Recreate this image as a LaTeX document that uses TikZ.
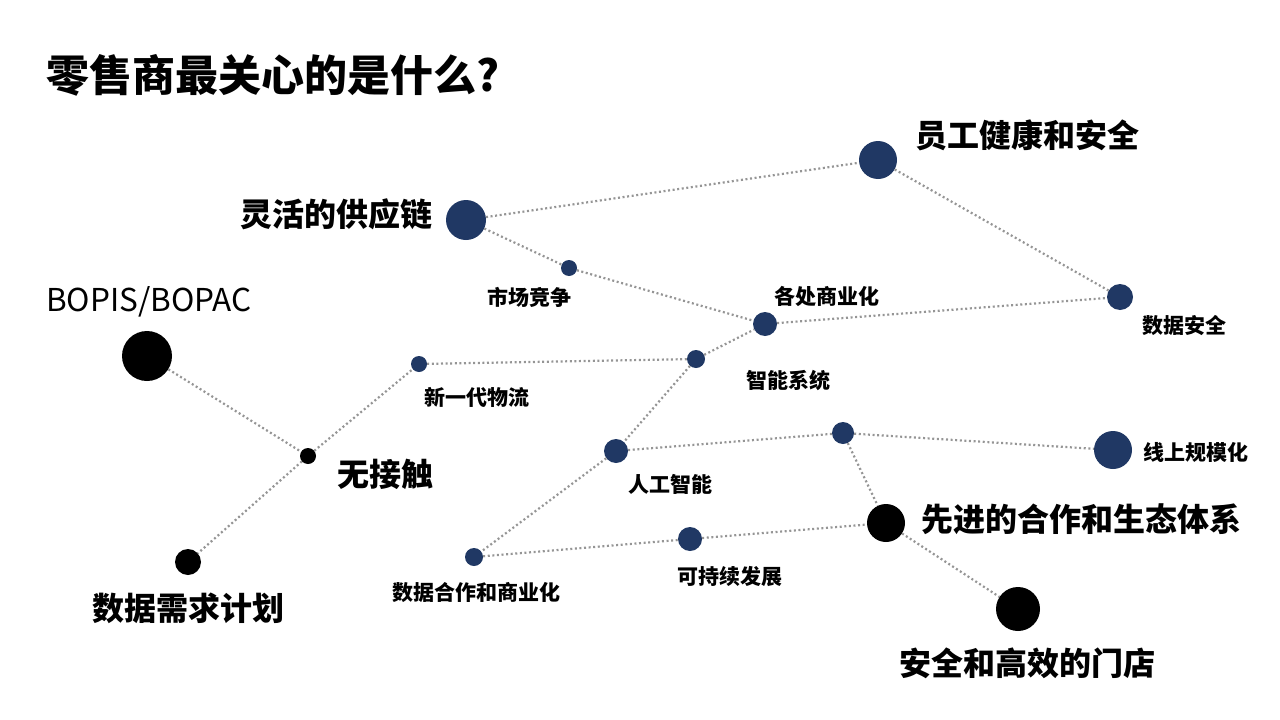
\documentclass[tikz,border=0pt]{standalone}
\usepackage{fontspec}
\setmainfont{Noto Sans CJK SC}
\usepackage{xcolor}
\usepackage{tikz}
\usetikzlibrary{positioning}

\definecolor{navy}{HTML}{203864}
\definecolor{linkgray}{HTML}{959595}

\tikzset{
	dot/.style={circle, inner sep=0pt, minimum size=#1},
	bluedot/.style={dot=#1, fill=navy},
	blackdot/.style={dot=#1, fill=black},
	link/.style={linkgray, line width=2.2pt, dash pattern=on 2pt off 2.6pt},
	bigtag/.style={font=\fontsize{32}{36}\selectfont\bfseries, inner sep=0pt},
	smalltag/.style={font=\fontsize{21}{24}\selectfont\bfseries, inner sep=0pt}
}

\begin{document}
\begin{tikzpicture}[x=1pt, y=-1pt]
		\useasboundingbox (0,0) rectangle (1280,720);

		% Title
		\node[anchor=west, inner sep=0pt, font=\fontsize{43}{48}\selectfont\bfseries] (title) at (46,75) {零售商最关心的是什么?};

		% Blue dots
		\foreach \n/\x/\y/\d in {staff/878/160/38, supply/466/220/40, market/569/268/16,
				commerce/765/324/24, datasafe/1120/297/26, logistics/419/364/16,
				smart/696/359/18, ai/616/451/24, hub/843/433/22, online/1113/450/38,
				green/690/539/24, datacoop/474/557/18} {
				\node[bluedot=\d] (\n) at (\x,\y) {};
			}

		% Black dots
		\foreach \n/\x/\y/\d in {bopis/147/356/50, contact/308/456/16, demand/188/562/26,
				partner/886/523/38, store/1018/609/44} {
				\node[blackdot=\d] (\n) at (\x,\y) {};
			}

		% Links between dots
		\foreach \a/\b in {supply/staff, staff/datasafe, supply/market, market/commerce,
				commerce/datasafe, smart/commerce, logistics/smart, smart/ai,
				bopis/contact, contact/logistics, contact/demand, ai/hub, hub/online,
				hub/partner, ai/datacoop, datacoop/green, green/partner, partner/store} {
				\draw[link] (\a) -- (\b);
			}

		% Large labels
		\node[bigtag] (staffT) at (1027,135) {员工健康和安全};
		\node[bigtag] (supplyT) at (336,214) {灵活的供应链};
		\node[bigtag] (contactT) at (385,474) {无接触};
		\node[bigtag] (demandT) at (188,608) {数据需求计划};
		\node[bigtag] (partnerT) at (1081,519) {先进的合作和生态体系};
		\node[bigtag] (storeT) at (1027,663) {安全和高效的门店};
		\node[inner sep=0pt, font=\fontsize{31.5}{34}\selectfont] (bopisT) at (149,302) {BOPIS/BOPAC};

		% Small labels
		\node[smalltag] (marketT) at (529,297) {市场竞争};
		\node[smalltag] (commerceT) at (827,296) {各处商业化};
		\node[smalltag] (datasafeT) at (1184,326) {数据安全};
		\node[smalltag] (logisticsT) at (477,397) {新一代物流};
		\node[smalltag] (smartT) at (788,380) {智能系统};
		\node[smalltag] (aiT) at (670,484) {人工智能};
		\node[smalltag] (onlineT) at (1196,452) {线上规模化};
		\node[smalltag] (greenT) at (730,577) {可持续发展};
		\node[smalltag] (datacoopT) at (476,593) {数据合作和商业化};
	\end{tikzpicture}
\end{document}
